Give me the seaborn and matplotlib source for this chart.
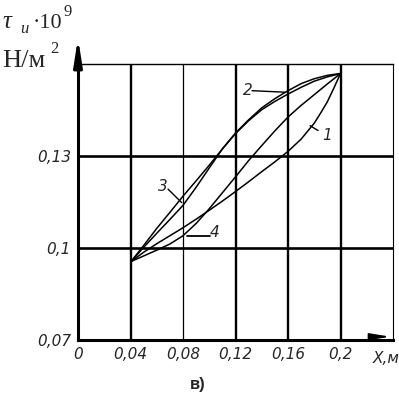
import numpy as np
import pandas as pd
import matplotlib
matplotlib.use('Agg')
import matplotlib.pyplot as plt
import seaborn as sns

# Curves (x in m, tau in 1e9 N/m^2)
x_common = [0.0404, 0.05, 0.06, 0.07, 0.08, 0.09, 0.10, 0.11, 0.12, 0.13, 0.14,
            0.15, 0.16, 0.17, 0.18, 0.19, 0.20]
curve1_x = [0.0404, 0.05, 0.06, 0.07, 0.08, 0.09, 0.10, 0.11, 0.12, 0.13, 0.14,
            0.15, 0.16, 0.17, 0.18, 0.185, 0.19, 0.195, 0.20]
curve1_y = [0.0956, 0.0986, 0.1014, 0.1040, 0.1066, 0.1094, 0.1123, 0.1153, 0.1184, 0.1216,
            0.1249, 0.1281, 0.1315, 0.1355, 0.1407, 0.1441, 0.1477, 0.1522, 0.1569]
curve2_y = [0.0956, 0.1002, 0.1048, 0.1093, 0.1139, 0.1198, 0.1261, 0.1323, 0.1375, 0.1418,
            0.1457, 0.1487, 0.1513, 0.1536, 0.1552, 0.1563, 0.1569]
curve3_y = [0.0956, 0.1008, 0.1064, 0.1116, 0.1169, 0.1219, 0.1270, 0.1323, 0.1373, 0.1415,
            0.1451, 0.1478, 0.1502, 0.1524, 0.1544, 0.1558, 0.1569]
curve4_y = [0.0956, 0.0974, 0.0993, 0.1013, 0.1040, 0.1080, 0.1128, 0.1180, 0.1232, 0.1285,
            0.1334, 0.1382, 0.1427, 0.1465, 0.1500, 0.1535, 0.1569]

x_ticks = [0, 0.04, 0.08, 0.12, 0.16, 0.2]
x_labels = ['0', '0,04', '0,08', '0,12', '0,16', '0,2']
y_ticks = [0.07, 0.1, 0.13]
y_labels = ['0,07', '0,1', '0,13']

frames = []
for name, xs, ys in [('1', curve1_x, curve1_y), ('2', x_common, curve2_y),
                     ('3', x_common, curve3_y), ('4', x_common, curve4_y)]:
    frames.append(pd.DataFrame({'x': xs, 'y': ys, 'curve': name}))
df = pd.concat(frames, ignore_index=True)

sns.set_style('white')
narrow = 'Liberation Sans Narrow'

fig = plt.figure(figsize=(3.99, 3.99), dpi=100)
ax = fig.add_axes([78 / 399, 59 / 399, 315 / 399, 276 / 399])

sns.lineplot(data=df, x='x', y='y', hue='curve', units='curve', estimator=None,
             sort=False, palette=['black'] * 4, linewidth=1.1, legend=False, ax=ax)

ax.set_xlim(0, 0.24)
ax.set_ylim(0.07, 0.16)

# grid lines
for xv, lw in zip([0.04, 0.08, 0.12, 0.16, 0.2], [1.7, 0.9, 1.7, 1.7, 1.7]):
    ax.axvline(xv, color='black', lw=lw, zorder=1)
for yv in [0.1, 0.13]:
    ax.axhline(yv, color='black', lw=1.9, zorder=1)

for side, lw in [('left', 2.2), ('bottom', 2.2), ('top', 1.0), ('right', 0.8)]:
    ax.spines[side].set_visible(True)
    ax.spines[side].set_color('black')
    ax.spines[side].set_linewidth(lw)

ax.set_xticks(x_ticks)
ax.set_xticklabels(x_labels, fontfamily=narrow, style='italic', fontsize=11)
ax.set_yticks(y_ticks)
ax.set_yticklabels(y_labels, fontfamily=narrow, style='italic', fontsize=11)
ax.tick_params(length=0, pad=5)
ax.set_xlabel('')
ax.set_ylabel('')
ax.text(0.235, 0.0665, 'X,м', fontfamily=narrow, style='italic', fontsize=11,
        ha='center', va='top')

# curve labels and leaders
lab = dict(fontfamily=narrow, style='italic', fontsize=11, ha='center', va='center')
ax.text(0.1897, 0.1366, '1', **lab)
ax.plot([0.1768, 0.1829], [0.1399, 0.1383], color='black', lw=1)
ax.text(0.1295, 0.1512, '2', **lab)
ax.plot([0.1326, 0.1577], [0.1513, 0.1508], color='black', lw=1)
ax.text(0.0648, 0.1202, '3', **lab)
ax.plot([0.0686, 0.0790], [0.1192, 0.1148], color='black', lw=1)
ax.text(0.1044, 0.1051, '4', **lab)
ax.plot([0.1006, 0.0828], [0.1039, 0.1039], color='black', lw=1.3)

# axis arrows
ax.annotate('', xy=(0, 1.105), xytext=(0, 0.99), xycoords='axes fraction',
            arrowprops=dict(arrowstyle='-|>,head_length=1.6,head_width=0.25',
                            color='black', lw=2.2, mutation_scale=10))
ax.annotate('', xy=(1.0, 0.012), xytext=(0.93, 0.012), xycoords='axes fraction',
            arrowprops=dict(arrowstyle='-|>,head_length=1.2,head_width=0.2',
                            color='black', lw=1.2, mutation_scale=10))

# y axis title
serif = 'Liberation Serif'
fig.text(2 / 399, 1 - 28 / 399, 'τ', fontfamily=serif, style='italic', fontsize=18, va='baseline')
fig.text(20 / 399, 1 - 33 / 399, 'и', fontfamily=serif, style='italic', fontsize=12, va='baseline')
fig.text(33 / 399, 1 - 28 / 399, '·10', fontfamily=serif, fontsize=16, va='baseline')
fig.text(63 / 399, 1 - 16 / 399, '9', fontfamily=serif, fontsize=12, va='baseline')
fig.text(2 / 399, 1 - 67 / 399, 'Н/м', fontfamily=serif, fontsize=19, va='baseline')
fig.text(50 / 399, 1 - 53 / 399, '2', fontfamily=serif, fontsize=12, va='baseline')

fig.text(198 / 399, 1 - 385 / 399, 'в)', fontfamily='Liberation Sans', fontweight='bold',
         fontsize=12, ha='center', va='center')

fig.savefig('out.png', dpi=100)
